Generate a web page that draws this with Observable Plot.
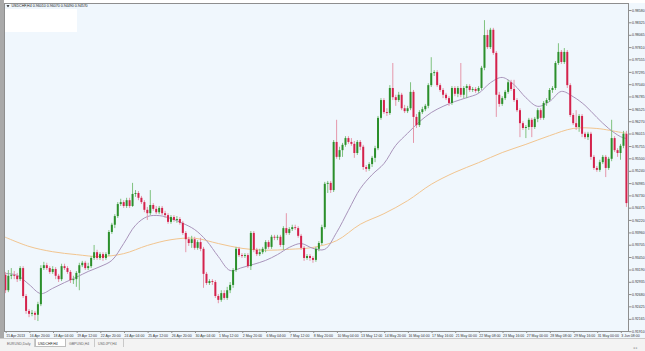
<!DOCTYPE html>
<html><head><meta charset="utf-8">
<script src="https://cdn.jsdelivr.net/npm/d3@7"></script>
<script src="https://cdn.jsdelivr.net/npm/@observablehq/plot@0.6"></script>
<style>
body{margin:0;background:#fff;font-family:"Liberation Sans","DejaVu Sans",sans-serif}
#wrap{position:relative;width:645px;height:351px;overflow:hidden;background:#f0f7fd}
#chart{position:absolute;left:0;top:0}
#top{position:absolute;left:0;top:0;width:645px;height:3px;background:#fff}
#leftbar{position:absolute;left:0;top:0;width:4px;height:338px;background:#a9a9a9}
#box{position:absolute;left:5px;top:9px;width:72px;height:23px;background:#fff}
#tabs{position:absolute;left:0;top:338px;width:645px;height:13px;background:#f3f3f3;border-top:1px solid #c9c9c9}
.tab{position:absolute;top:0;height:8px;border-right:1px solid #c9c9c9;box-sizing:border-box}
.tab.on{background:#fff;border:1px solid #bdbdbd;border-top:none}
svg.lbl{position:absolute;left:0;top:0;overflow:visible}
</style></head><body>
<div id="wrap">
<div id="chart"></div>
<div id="top"></div>
<div id="leftbar"></div>
<div id="box"></div>
<div id="tabs"></div>
<svg class="lbl" width="645" height="351" id="over"></svg>
</div>
<script>
const barOpen = [0.9308,
0.9276,0.9306,0.9308,0.9306,0.9299,0.9322,0.9264,0.9233,0.9227,0.9229,
0.9225,0.9247,0.9322,0.9328,0.9322,0.9314,0.9320,0.9306,0.9299,0.9326,
0.9322,0.9314,0.9297,0.9299,0.9312,0.9328,0.9333,0.9322,0.9326,0.9343,
0.9355,0.9343,0.9351,0.9343,0.9351,0.9397,0.9412,0.9430,0.9455,0.9459,
0.9451,0.9463,0.9451,0.9476,0.9478,0.9468,0.9459,0.9443,0.9436,0.9453,
0.9445,0.9438,0.9447,0.9436,0.9432,0.9418,0.9428,0.9422,0.9424,0.9416,
0.9395,0.9382,0.9374,0.9382,0.9364,0.9376,0.9362,0.9310,0.9291,0.9295,
0.9293,0.9264,0.9256,0.9270,0.9260,0.9276,0.9287,0.9318,0.9362,0.9349,
0.9347,0.9349,0.9326,0.9395,0.9360,0.9351,0.9355,0.9362,0.9376,0.9366,
0.9387,0.9385,0.9387,0.9370,0.9405,0.9395,0.9403,0.9407,0.9405,0.9389,
0.9364,0.9343,0.9347,0.9343,0.9339,0.9362,0.9374,0.9407,0.9497,0.9499,
0.9484,0.9584,0.9553,0.9567,0.9578,0.9592,0.9584,0.9580,0.9561,0.9584,
0.9574,0.9532,0.9528,0.9538,0.9551,0.9571,0.9634,0.9671,0.9646,0.9644,
0.9696,0.9677,0.9671,0.9682,0.9654,0.9648,0.9654,0.9688,0.9636,0.9619,
0.9646,0.9652,0.9659,0.9702,0.9727,0.9729,0.9702,0.9692,0.9682,0.9675,
0.9665,0.9696,0.9684,0.9696,0.9682,0.9696,0.9700,0.9692,0.9694,0.9690,
0.9696,0.9738,0.9806,0.9781,0.9817,0.9769,0.9682,0.9663,0.9675,0.9688,
0.9708,0.9694,0.9671,0.9650,0.9623,0.9613,0.9615,0.9630,0.9615,0.9632,
0.9650,0.9634,0.9665,0.9671,0.9692,0.9696,0.9748,0.9771,0.9750,0.9771,
0.9702,0.9640,0.9623,0.9615,0.9638,0.9601,0.9594,0.9601,0.9553,0.9530,
0.9526,0.9542,0.9553,0.9530,0.9549,0.9592,0.9567,0.9561,0.9576,0.9601];

const barClose = [
0.9276,0.9306,0.9308,0.9306,0.9299,0.9322,0.9264,0.9233,0.9227,0.9229,
0.9225,0.9247,0.9322,0.9328,0.9322,0.9314,0.9320,0.9306,0.9299,0.9326,
0.9322,0.9314,0.9297,0.9299,0.9312,0.9328,0.9333,0.9322,0.9326,0.9343,
0.9355,0.9343,0.9351,0.9343,0.9351,0.9397,0.9412,0.9430,0.9455,0.9459,
0.9451,0.9463,0.9451,0.9476,0.9478,0.9468,0.9459,0.9443,0.9436,0.9453,
0.9445,0.9438,0.9447,0.9436,0.9432,0.9418,0.9428,0.9422,0.9424,0.9416,
0.9395,0.9382,0.9374,0.9382,0.9364,0.9376,0.9362,0.9310,0.9291,0.9295,
0.9293,0.9264,0.9256,0.9270,0.9260,0.9276,0.9287,0.9318,0.9362,0.9349,
0.9347,0.9349,0.9326,0.9395,0.9360,0.9351,0.9355,0.9362,0.9376,0.9366,
0.9387,0.9385,0.9387,0.9370,0.9405,0.9395,0.9403,0.9407,0.9405,0.9389,
0.9364,0.9343,0.9347,0.9343,0.9339,0.9362,0.9374,0.9407,0.9497,0.9499,
0.9484,0.9584,0.9553,0.9567,0.9578,0.9592,0.9584,0.9580,0.9561,0.9584,
0.9574,0.9532,0.9528,0.9538,0.9551,0.9571,0.9634,0.9671,0.9646,0.9644,
0.9696,0.9677,0.9671,0.9682,0.9654,0.9648,0.9654,0.9688,0.9636,0.9619,
0.9646,0.9652,0.9659,0.9702,0.9727,0.9729,0.9702,0.9692,0.9682,0.9675,
0.9665,0.9696,0.9684,0.9696,0.9682,0.9696,0.9700,0.9692,0.9694,0.9690,
0.9696,0.9738,0.9806,0.9781,0.9817,0.9769,0.9682,0.9663,0.9675,0.9688,
0.9708,0.9694,0.9671,0.9650,0.9623,0.9613,0.9615,0.9630,0.9615,0.9632,
0.9650,0.9634,0.9665,0.9671,0.9692,0.9696,0.9748,0.9771,0.9750,0.9771,
0.9702,0.9640,0.9623,0.9615,0.9638,0.9601,0.9594,0.9601,0.9553,0.9530,
0.9526,0.9542,0.9553,0.9530,0.9549,0.9592,0.9567,0.9561,0.9576,0.9601,
0.9457];

const barHigh = [
0.9314,0.9318,0.9322,0.9316,0.9312,0.9326,0.9326,0.9268,0.9237,0.9235,
0.9233,0.9252,0.9328,0.9335,0.9333,0.9326,0.9326,0.9324,0.9310,0.9331,
0.9331,0.9326,0.9318,0.9306,0.9316,0.9333,0.9337,0.9337,0.9333,0.9347,
0.9370,0.9360,0.9355,0.9355,0.9355,0.9401,0.9416,0.9434,0.9459,0.9466,
0.9463,0.9468,0.9468,0.9499,0.9484,0.9482,0.9472,0.9463,0.9449,0.9484,
0.9457,0.9451,0.9451,0.9451,0.9441,0.9436,0.9432,0.9432,0.9430,0.9428,
0.9420,0.9399,0.9387,0.9389,0.9387,0.9380,0.9385,0.9366,0.9314,0.9299,
0.9299,0.9297,0.9268,0.9276,0.9276,0.9283,0.9293,0.9322,0.9366,0.9366,
0.9353,0.9353,0.9353,0.9399,0.9399,0.9364,0.9362,0.9366,0.9380,0.9380,
0.9391,0.9391,0.9391,0.9391,0.9409,0.9436,0.9407,0.9412,0.9412,0.9409,
0.9393,0.9368,0.9351,0.9351,0.9347,0.9366,0.9378,0.9412,0.9501,0.9503,
0.9503,0.9588,0.9630,0.9574,0.9582,0.9596,0.9596,0.9592,0.9586,0.9588,
0.9588,0.9578,0.9536,0.9542,0.9555,0.9576,0.9638,0.9675,0.9675,0.9654,
0.9702,0.9748,0.9682,0.9688,0.9686,0.9661,0.9659,0.9708,0.9692,0.9642,
0.9650,0.9657,0.9663,0.9706,0.9760,0.9733,0.9733,0.9706,0.9696,0.9686,
0.9679,0.9700,0.9700,0.9700,0.9748,0.9700,0.9704,0.9704,0.9698,0.9698,
0.9700,0.9742,0.9837,0.9817,0.9821,0.9821,0.9773,0.9688,0.9679,0.9692,
0.9713,0.9713,0.9713,0.9675,0.9654,0.9627,0.9619,0.9634,0.9634,0.9636,
0.9654,0.9654,0.9669,0.9675,0.9696,0.9700,0.9752,0.9789,0.9775,0.9779,
0.9775,0.9706,0.9644,0.9650,0.9642,0.9642,0.9605,0.9605,0.9605,0.9557,
0.9534,0.9547,0.9557,0.9557,0.9553,0.9630,0.9596,0.9571,0.9580,0.9607,
0.9607];

const barLow = [
0.9270,0.9272,0.9299,0.9299,0.9293,0.9295,0.9260,0.9227,0.9220,0.9222,
0.9214,0.9212,0.9243,0.9318,0.9318,0.9310,0.9310,0.9299,0.9293,0.9295,
0.9318,0.9310,0.9291,0.9289,0.9283,0.9276,0.9324,0.9318,0.9318,0.9322,
0.9339,0.9339,0.9339,0.9337,0.9339,0.9347,0.9393,0.9405,0.9426,0.9451,
0.9447,0.9447,0.9447,0.9449,0.9470,0.9463,0.9455,0.9438,0.9422,0.9432,
0.9441,0.9434,0.9434,0.9432,0.9426,0.9414,0.9414,0.9418,0.9416,0.9412,
0.9391,0.9355,0.9368,0.9364,0.9360,0.9360,0.9357,0.9281,0.9287,0.9287,
0.9287,0.9260,0.9249,0.9252,0.9256,0.9256,0.9270,0.9281,0.9314,0.9345,
0.9343,0.9343,0.9322,0.9318,0.9355,0.9347,0.9347,0.9351,0.9355,0.9362,
0.9362,0.9380,0.9380,0.9366,0.9360,0.9391,0.9391,0.9399,0.9401,0.9385,
0.9360,0.9337,0.9339,0.9337,0.9333,0.9335,0.9357,0.9370,0.9403,0.9478,
0.9478,0.9480,0.9549,0.9547,0.9553,0.9574,0.9580,0.9576,0.9551,0.9557,
0.9567,0.9526,0.9522,0.9524,0.9532,0.9542,0.9567,0.9630,0.9642,0.9638,
0.9640,0.9671,0.9659,0.9667,0.9650,0.9644,0.9644,0.9650,0.9582,0.9613,
0.9615,0.9642,0.9648,0.9654,0.9698,0.9721,0.9698,0.9688,0.9675,0.9671,
0.9659,0.9661,0.9679,0.9677,0.9677,0.9675,0.9675,0.9688,0.9688,0.9686,
0.9686,0.9692,0.9733,0.9777,0.9777,0.9765,0.9636,0.9657,0.9659,0.9671,
0.9684,0.9690,0.9667,0.9646,0.9594,0.9609,0.9592,0.9609,0.9594,0.9611,
0.9625,0.9630,0.9630,0.9659,0.9667,0.9686,0.9692,0.9744,0.9746,0.9746,
0.9696,0.9636,0.9619,0.9609,0.9605,0.9594,0.9590,0.9588,0.9547,0.9526,
0.9522,0.9522,0.9538,0.9511,0.9526,0.9544,0.9563,0.9553,0.9547,0.9571,
0.9449];

// fast moving average (purple), sampled at bar indices
const fastIdx = [0,4,8,12,16,20,24,28,32,36,40,44,48,52,56,60,64,68,72,76,80,84,88,92,96,100,104,108,112,116,120,124,128,132,136,140,144,148,152,156,160,164,168,172,176,180,184,188,192,196,200,204,208,210];
const fastMA = [
0.9312,0.9308,0.9289,0.9270,0.9281,0.9293,0.9304,0.9316,0.9326,0.9339,
0.9374,0.9412,0.9430,0.9432,0.9426,0.9416,0.9403,0.9380,0.9347,0.9318,
0.9324,0.9331,0.9339,0.9351,0.9366,0.9374,0.9364,0.9362,0.9397,0.9443,
0.9488,0.9517,0.9540,0.9578,0.9603,0.9627,0.9646,0.9659,0.9669,0.9677,
0.9686,0.9708,0.9719,0.9704,0.9677,0.9659,0.9669,0.9690,0.9679,0.9661,
0.9636,0.9613,0.9596,0.9592];

// slow moving average (orange)
const slowIdx = [0,8,16,24,32,40,48,56,64,72,80,88,96,104,112,120,128,136,144,152,160,168,176,184,192,200,208,210];
const slowMA = [
0.9387,0.9368,0.9357,0.9351,0.9347,0.9353,0.9370,0.9382,0.9385,0.9374,
0.9364,0.9360,0.9362,0.9366,0.9380,0.9414,0.9436,0.9463,0.9497,0.9522,
0.9542,0.9563,0.9580,0.9598,0.9613,0.9613,0.9605,0.9603];

const priceTicks = [0.98580,0.98325,0.98065,0.97810,0.97555,0.97295,0.97040,0.96785,0.96525,0.96270,0.96015,0.95755,0.95500,0.95240,0.94985,0.94730,0.94475,0.94220,0.93960,0.93705,0.93450,0.93190,0.92935,0.92680,0.92425,0.92165,0.91910];

const timeTickBars = [0,8,16,24,32,40,48,56,64,72,80,88,96,104,112,120,128,136,144,152,160,168,176,184,192,200,208];
const timeLabels = ["15 Apr 2013","16 Apr 20:00","18 Apr 04:00","19 Apr 12:00","22 Apr 20:00","24 Apr 04:00","25 Apr 12:00","26 Apr 20:00","30 Apr 04:00","1 May 12:00","2 May 20:00","6 May 04:00","7 May 12:00","8 May 20:00","10 May 04:00","13 May 12:00","14 May 20:00","16 May 04:00","17 May 16:00","21 May 00:00","22 May 08:00","23 May 16:00","27 May 00:00","28 May 08:00","29 May 16:00","31 May 00:00","3 Jun 08:00"];

const titleText = "USDCHF,H4 0.96010 0.96070 0.94490 0.94570";
const tabNames = ["EURUSD,Daily","USDCHF,H4","GBPUSD,H4","USDJPY,H4"];

const bars = barClose.map((c, i) => ({i, o: barOpen[i], h: barHigh[i], l: barLow[i], c, up: c >= barOpen[i]}));
const fast = fastIdx.map((b, k) => ({b, v: fastMA[k]}));
const slow = slowIdx.map((b, k) => ({b, v: slowMA[k]}));
const labelAt = new Map(timeTickBars.map((t, k) => [t, timeLabels[k]]));

const chart = Plot.plot({
  width: 645, height: 339,
  marginTop: 3, marginBottom: 8, marginLeft: 4, marginRight: 17,
  style: {background: "transparent", fontFamily: "Liberation Sans, DejaVu Sans, sans-serif", color: "#333"},
  x: {domain: [-0.3, 210.7], axis: null},
  y: {domain: [0.91913, 0.98726], axis: null},
  marks: [
    Plot.line(slow, {x: "b", y: "v", stroke: "#f2c58f", strokeWidth: 1, curve: "catmull-rom"}),
    Plot.line(fast, {x: "b", y: "v", stroke: "#a994bb", strokeWidth: 1, curve: "catmull-rom"}),
    Plot.ruleX(bars, {filter: d => d.up, x: "i", y1: "l", y2: "h", stroke: "#7fc27f", strokeWidth: 1}),
    Plot.ruleX(bars, {filter: d => !d.up, x: "i", y1: "l", y2: "h", stroke: "#e597aa", strokeWidth: 1}),
    Plot.ruleX(bars, {filter: d => d.up, x: "i", y1: "o", y2: "c", stroke: "#2b8f2b", strokeWidth: 2}),
    Plot.ruleX(bars, {filter: d => !d.up, x: "i", y1: "o", y2: "c", stroke: "#d4224c", strokeWidth: 2}),
    Plot.frame({stroke: "#8e8e8e", strokeWidth: 1}),
    Plot.axisY({anchor: "right", ticks: priceTicks, tickFormat: d => d.toFixed(5), tickSize: 2.5, tickPadding: 1, stroke: "#8e8e8e", fill: "#333", fontSize: 3.5}),
    Plot.axisX({ticks: timeTickBars, tickFormat: d => labelAt.get(d), tickSize: 2, tickPadding: 0.8, textAnchor: "start", dx: 0.8, stroke: "#8e8e8e", fill: "#333", fontSize: 3.5})
  ]
});
document.getElementById("chart").appendChild(chart);

// tabs (backgrounds as divs, texts as svg text)
const tabs = document.getElementById("tabs");
const tabX = [4, 35, 66, 95];
const tabW = [31, 31, 29, 29];
tabNames.forEach((n, k) => {
  const d = document.createElement("div");
  d.className = "tab" + (k === 1 ? " on" : "");
  d.style.left = tabX[k] + "px";
  d.style.width = tabW[k] + "px";
  tabs.appendChild(d);
});
const over = d3.select("#over").style("font-family", "Liberation Sans, DejaVu Sans, sans-serif");
over.selectAll("text.tab").data(tabNames).join("text")
  .attr("x", (d, k) => tabX[k] + 3).attr("y", 344.8)
  .attr("font-size", 3.5).attr("fill", (d, k) => k === 1 ? "#222" : "#666").text(d => d);
over.append("path").attr("d", "M6.5,5.2 L9.5,5.2 L8,7.2 Z").attr("fill", "#111");
over.append("text").attr("x", 11.5).attr("y", 7.4).attr("font-size", 3.6).attr("fill", "#111").text(titleText);
over.append("text").attr("x", 633).attr("y", 349).attr("font-size", 3.5).attr("fill", "#999").text("◂ ▸");
</script>
</body></html>
